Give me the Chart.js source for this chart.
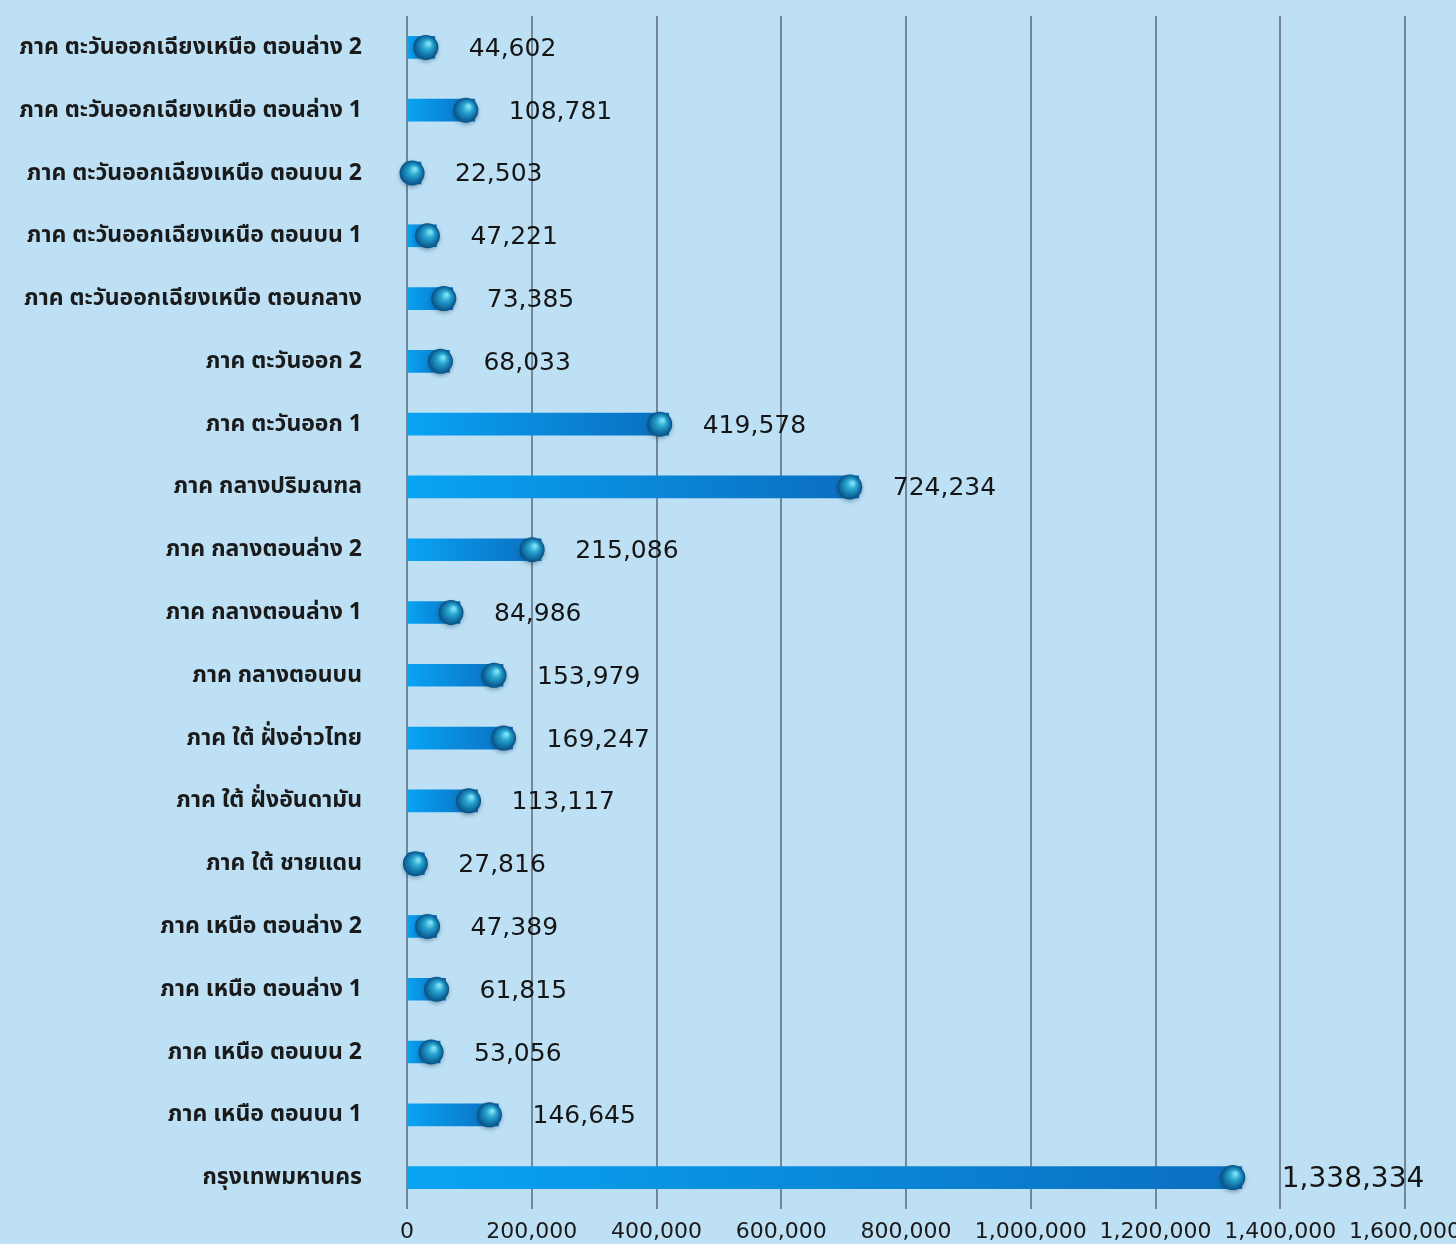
<!DOCTYPE html>
<html><head><meta charset="utf-8">
<script src="https://cdn.jsdelivr.net/npm/chart.js@4/dist/chart.umd.min.js"></script>
<style>html,body{margin:0;padding:0;background:#BDE0F5;overflow:hidden}</style>
</head><body>
<canvas id="c" width="1456" height="1244"></canvas>
<script>
const categories = [
  'ภาค ตะวันออกเฉียงเหนือ ตอนล่าง 2',
  'ภาค ตะวันออกเฉียงเหนือ ตอนล่าง 1',
  'ภาค ตะวันออกเฉียงเหนือ ตอนบน 2',
  'ภาค ตะวันออกเฉียงเหนือ ตอนบน 1',
  'ภาค ตะวันออกเฉียงเหนือ ตอนกลาง',
  'ภาค ตะวันออก 2',
  'ภาค ตะวันออก 1',
  'ภาค กลางปริมณฑล',
  'ภาค กลางตอนล่าง 2',
  'ภาค กลางตอนล่าง 1',
  'ภาค กลางตอนบน',
  'ภาค ใต้ ฝั่งอ่าวไทย',
  'ภาค ใต้ ฝั่งอันดามัน',
  'ภาค ใต้ ชายแดน',
  'ภาค เหนือ ตอนล่าง 2',
  'ภาค เหนือ ตอนล่าง 1',
  'ภาค เหนือ ตอนบน 2',
  'ภาค เหนือ ตอนบน 1',
  'กรุงเทพมหานคร'
];
const values = [44602,108781,22503,47221,73385,68033,419578,724234,215086,84986,153979,169247,113117,27816,47389,61815,53056,146645,1338334];
const axisMin = 0;
const axisMax = 1600000;
const axisStep = 200000;

const fmt = v => v.toLocaleString('en-US');

const bgPlugin = {
  id: 'bg',
  beforeDraw(chart) {
    const c = chart.ctx;
    c.save();
    c.fillStyle = '#BDE0F5';
    c.fillRect(0, 0, chart.width, chart.height);
    c.restore();
  }
};

const decoPlugin = {
  id: 'deco',
  afterDatasetsDraw(chart) {
    const c = chart.ctx;
    const meta = chart.getDatasetMeta(0);
    meta.data.forEach((bar, i) => {
      const r = 12.5;
      const cx = Math.max(bar.x - 9, chart.chartArea.left + 4);
      const cy = bar.y;
      c.save();
      c.shadowColor = 'rgba(0,40,80,0.35)';
      c.shadowBlur = 4;
      c.shadowOffsetY = 2;
      const g = c.createRadialGradient(cx + 3, cy - 4, 1, cx, cy, r);
      g.addColorStop(0, '#7fe0f5');
      g.addColorStop(0.35, '#2aa6d0');
      g.addColorStop(0.8, '#0e6aa0');
      g.addColorStop(1, '#0a4f7e');
      c.fillStyle = g;
      c.beginPath();
      c.arc(cx, cy, r, 0, Math.PI * 2);
      c.fill();
      c.restore();
      c.save();
      const last = i === values.length - 1;
      c.font = (last ? '28px' : '25px') + ' "DejaVu Sans", sans-serif';
      c.fillStyle = '#151515';
      c.textBaseline = 'middle';
      c.textAlign = 'left';
      c.fillText(fmt(values[i]), bar.x + (last ? 40 : 34), cy + 2);
      c.restore();
    });
  }
};

new Chart(document.getElementById('c'), {
  type: 'bar',
  data: {
    labels: categories,
    datasets: [{
      data: values,
      barThickness: 22,
      borderWidth: 0,
      backgroundColor(ctx) {
        const chart = ctx.chart;
        const area = chart.chartArea;
        if (!area) return '#0a8ee0';
        const xs = chart.scales.x;
        const end = xs.getPixelForValue(ctx.raw);
        const g = chart.ctx.createLinearGradient(area.left, 0, Math.max(end, area.left + 1), 0);
        g.addColorStop(0, '#09A4F4');
        g.addColorStop(1, '#0B6EBF');
        return g;
      }
    }]
  },
  options: {
    indexAxis: 'y',
    responsive: false,
    animation: false,
    devicePixelRatio: 1,
    layout: { padding: { top: 16, right: 51, left: 0, bottom: 0 } },
    plugins: { legend: { display: false }, tooltip: { enabled: false } },
    scales: {
      x: {
        min: axisMin, max: axisMax,
        ticks: {
          stepSize: axisStep,
          callback: v => fmt(v),
          font: { family: '"DejaVu Sans", sans-serif', size: 22 },
          color: '#1a1a1a',
          padding: 10,
          maxRotation: 0,
          autoSkip: false
        },
        grid: { color: '#728898', lineWidth: 2, drawTicks: false },
        border: { display: false },
        afterFit(s) { s.height = 35; s.paddingLeft = 0; s.paddingRight = 0; }
      },
      y: {
        ticks: {
          font: { family: '"Noto Sans", "Noto Sans Thai", Tahoma, sans-serif', size: 23, weight: 'bold' },
          color: '#1a1a1a',
          padding: 45,
          autoSkip: false
        },
        grid: { display: false, drawTicks: false },
        border: { display: false },
        afterFit(s) { s.width = 407; s.paddingTop = 0; s.paddingBottom = 0; }
      }
    }
  },
  plugins: [bgPlugin, decoPlugin]
});
</script>
</body></html>
